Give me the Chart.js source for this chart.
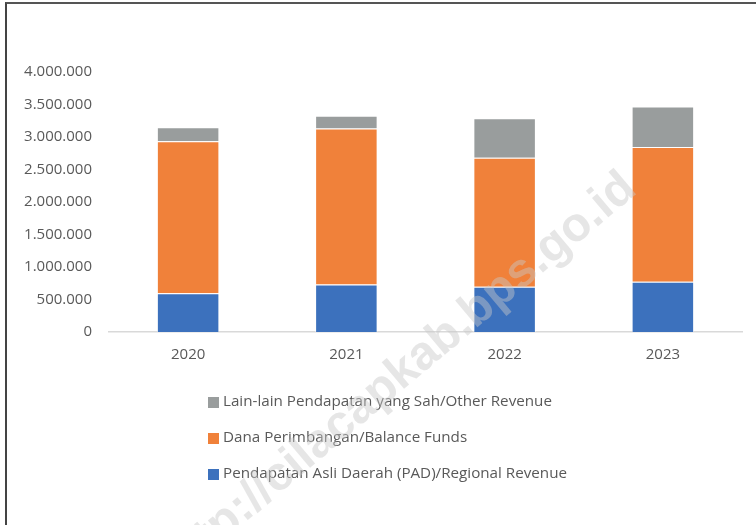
<!DOCTYPE html>
<html>
<head>
<meta charset="utf-8">
<script src="https://cdn.jsdelivr.net/npm/chart.js@4"></script>
<style>
  html, body { margin: 0; padding: 0; background: #fff; }
  #wrap { position: absolute; left: 0; top: 0; width: 756px; height: 525px; }
  #frame { position: absolute; left: 5px; top: 2px; right: -10px; bottom: -10px;
           border-left: 2px solid #444; border-top: 2px solid #555; pointer-events: none; }
</style>
</head>
<body>
<div id="wrap">
  <canvas id="chart" width="756" height="525"></canvas>
  <div id="frame"></div>
</div>
<script>
const years = ["2020", "2021", "2022", "2023"];
const padValues = [595000, 732000, 695000, 772000];
const danaValues = [2340000, 2400000, 1984000, 2076000];
const otherValues = [215000, 195000, 608000, 623000];
const seriesNames = [
  "Pendapatan Asli Daerah (PAD)/Regional Revenue",
  "Dana Perimbangan/Balance Funds",
  "Lain-lain Pendapatan yang Sah/Other Revenue"
];
const seriesColors = ["#3c71bd", "#f0813a", "#999d9d"];
const yTicks = [0, 500000, 1000000, 1500000, 2000000, 2500000, 3000000, 3500000, 4000000];
const watermark = "http://cilacapkab.bps.go.id";

const font = "'Open Sans', 'Liberation Sans', sans-serif";

function fmt(v) {
  return String(v).replace(/\B(?=(\d{3})+(?!\d))/g, ".");
}

const legendPlugin = {
  id: "stackLegend",
  afterDraw(chart) {
    const ctx = chart.ctx;
    ctx.save();
    ctx.font = "15.2px " + font;
    ctx.textBaseline = "middle";
    // reversed order, top row is the top of the stack
    const ds = chart.data.datasets.slice().reverse();
    ds.forEach((d, i) => {
      const y = 402 + i * 36;
      ctx.fillStyle = d.backgroundColor;
      ctx.fillRect(208, y - 5, 11, 11);
      ctx.fillStyle = "#595959";
      ctx.fillText(d.label, 223, y);
    });
    ctx.restore();
  }
};

const watermarkPlugin = {
  id: "watermark",
  afterDraw(chart) {
    const ctx = chart.ctx;
    ctx.save();
    ctx.translate(630, 182);
    ctx.rotate(-40 * Math.PI / 180);
    ctx.font = "bold 48px 'Liberation Sans', sans-serif";
    ctx.textAlign = "right";
    ctx.textBaseline = "middle";
    ctx.fillStyle = "rgba(200,200,200,0.45)";
    ctx.fillText(watermark, 0, 0);
    ctx.restore();
  }
};

new Chart(document.getElementById("chart"), {
  type: "bar",
  data: {
    labels: years,
    datasets: [
      { label: seriesNames[0], data: padValues, backgroundColor: seriesColors[0] },
      { label: seriesNames[1], data: danaValues, backgroundColor: seriesColors[1] },
      { label: seriesNames[2], data: otherValues, backgroundColor: seriesColors[2] }
    ].map(d => Object.assign(d, {
      borderColor: "rgba(255,255,255,0.45)",
      borderWidth: 1,
      categoryPercentage: 1,
      barPercentage: 0.395
    }))
  },
  options: {
    responsive: false,
    animation: false,
    layout: { padding: { top: 72, right: 14, left: 0, bottom: 0 } },
    plugins: {
      legend: { display: false },
      tooltip: { enabled: false }
    },
    scales: {
      x: {
        stacked: true,
        grid: { display: false, drawTicks: false },
        border: { color: "#d9d9d9", width: 1.5 },
        ticks: { color: "#595959", font: { family: font, size: 15 }, padding: 14 },
        afterFit(scale) { scale.height = 193; }
      },
      y: {
        stacked: true,
        min: 0,
        max: 4000000,
        grid: { display: false, drawTicks: false },
        border: { display: false },
        afterBuildTicks(scale) { scale.ticks = yTicks.map(v => ({ value: v })); },
        ticks: {
          color: "#595959",
          font: { family: font, size: 15 },
          padding: 17,
          callback: v => fmt(v)
        },
        afterFit(scale) { scale.width = 109; }
      }
    }
  },
  plugins: [legendPlugin, watermarkPlugin]
});
</script>
</body>
</html>
